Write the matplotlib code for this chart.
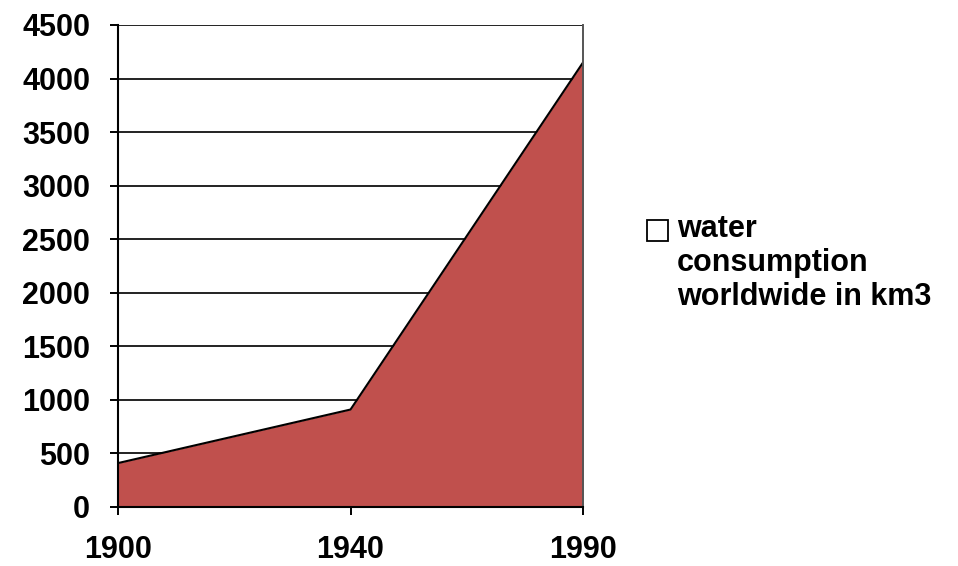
import matplotlib
matplotlib.use("Agg")
import matplotlib.pyplot as plt
from matplotlib.patches import Rectangle

years = ["1900", "1940", "1990"]
consumption_km3 = [410, 910, 4150]
y_ticks = [0, 500, 1000, 1500, 2000, 2500, 3000, 3500, 4000, 4500]
series_label = "water\nconsumption\nworldwide in km3"

plt.rcParams["font.family"] = ["Liberation Sans", "DejaVu Sans"]

W, H = 958, 566
fig = plt.figure(figsize=(W / 100, H / 100), dpi=100)
ax = fig.add_axes([118 / W, 1 - 507 / H, (583 - 118) / W, (507 - 25) / H])

x = list(range(len(years)))
ax.fill_between(x, consumption_km3, 0, color="#C0504D", linewidth=0, zorder=2)
ax.plot(x, consumption_km3, color="black", linewidth=1.5, zorder=3)

ax.set_xlim(0, len(years) - 1)
ax.set_ylim(0, 4500)
ax.set_xticks(x)
ax.set_xticklabels(years)
ax.set_yticks(y_ticks)
ax.set_yticklabels([str(v) for v in y_ticks])

ax.grid(axis="y", color="#222222", linewidth=1.4, zorder=1)
ax.set_axisbelow(True)

ax.spines["top"].set_visible(False)
ax.spines["right"].set_color("#555555")
ax.spines["right"].set_linewidth(1.4)
ax.spines["right"].set_zorder(4)
for side in ("left", "bottom"):
    ax.spines[side].set_color("black")
    ax.spines[side].set_linewidth(1.5)
    ax.spines[side].set_zorder(4)

ax.tick_params(axis="both", direction="out", length=6, width=1.4, color="black",
               labelsize=22)
ax.tick_params(axis="y", pad=14)
ax.tick_params(axis="x", pad=14)
for lbl in ax.get_xticklabels() + ax.get_yticklabels():
    lbl.set_fontweight("bold")

# legend: empty square key followed by the three-line series name
fig.patches.append(Rectangle((647 / W, 1 - 241 / H), 21 / W, 21 / H,
                             transform=fig.transFigure, facecolor="white",
                             edgecolor="black", linewidth=1.3))
fig.text(677 / W, 1 - 214 / H, series_label, ha="left", va="top",
         fontsize=22, fontweight="bold", linespacing=1.17)

fig.savefig("out.png", dpi=100)
